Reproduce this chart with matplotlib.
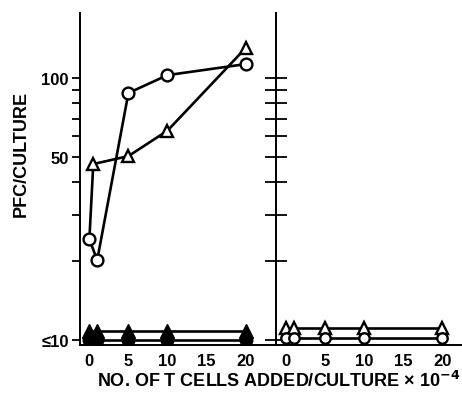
import matplotlib
matplotlib.use("Agg")
import matplotlib.pyplot as plt
from matplotlib.ticker import FixedLocator, NullFormatter, NullLocator

plt.rcParams['font.family'] = ['Liberation Sans', 'DejaVu Sans']
plt.rcParams['font.weight'] = 'bold'

# ---- data (PFC/culture vs number of T cells added, x10^-4) ----
# left panel
open_circle_x = [0, 1, 5, 10, 20]
open_circle_y = [24.3, 20.2, 87.7, 102.6, 113]
open_tri_x = [0, 0.5, 5, 10, 20]          # first point shared with circle at x=0
open_tri_y = [24.3, 47, 50.4, 63, 130]
filled_x = [0, 1, 5, 10, 20]
filled_tri_y = [10.9, 10.9, 10.9, 10.9, 10.9]
filled_circle_y = [10.05, 10.05, 10.05, 10.05, 10.05]
# right panel
right_x = [0, 1, 5, 10, 20]
right_tri_y = [11.1, 11.1, 11.1, 11.1, 11.1]
right_circle_y = [10.2, 10.2, 10.2, 10.2, 10.2]

ytick_major = [10, 50, 100]
ytick_labels = ['≤10', '50', '100']
ytick_minor = [20, 30, 40, 60, 70, 80, 90]
ytick_all = [10, 20, 30, 40, 50, 60, 70, 80, 90, 100]
xticks = [0, 5, 10, 15, 20]

W, H = 462, 402
fig = plt.figure(figsize=(W / 100, H / 100), dpi=100)

def frac(x0, y0, x1, y1):
    return [x0 / W, 1 - y1 / H, (x1 - x0) / W, (y1 - y0) / H]

axL = fig.add_axes(frac(80, 14, 276, 346))
axR = fig.add_axes(frac(276, 14, 461, 346))

ylim = (9.6, 177)
lw = 1.9
ms = 8.5
mew = 1.7

# Left panel
axL.plot(open_circle_x, open_circle_y, '-', color='black', lw=lw, zorder=2)
axL.plot(open_circle_x, open_circle_y, 'o', ms=ms, mfc='white', mec='black', mew=mew, zorder=4)
axL.plot(open_tri_x, open_tri_y, '-', color='black', lw=lw, zorder=2)
axL.plot(open_tri_x[1:], open_tri_y[1:], '^', ms=ms + 0.5, mfc='white', mec='black', mew=mew, zorder=4)
axL.plot(filled_x, filled_tri_y, '-^', color='black', lw=lw, ms=ms + 1.5, zorder=3)
axL.plot(filled_x, filled_circle_y, '-o', color='black', lw=lw, ms=ms + 0.5, zorder=3)

axL.set_yscale('log')
axL.set_ylim(*ylim)
axL.set_xlim(-1.2, 23.9)
axL.yaxis.set_major_locator(FixedLocator(ytick_major))
axL.set_yticklabels(ytick_labels)
axL.yaxis.set_minor_locator(FixedLocator(ytick_minor))
axL.yaxis.set_minor_formatter(NullFormatter())
axL.set_xticks(xticks)
axL.tick_params(axis='y', which='both', direction='out', length=6, width=1.3, labelsize=12, pad=2)
axL.tick_params(axis='x', which='both', length=0, labelsize=12, pad=6)
axL.xaxis.set_minor_locator(NullLocator())
for s in ['top', 'right']:
    axL.spines[s].set_visible(False)
for s in ['left', 'bottom']:
    axL.spines[s].set_linewidth(1.4)
axL.set_ylabel('PFC/CULTURE', fontsize=13, fontweight='bold')
axL.yaxis.set_label_coords(-0.255, 0.58)

# Right panel
axR.plot(right_x, right_tri_y, '-', color='black', lw=lw, zorder=2)
axR.plot(right_x, right_tri_y, '^', ms=ms - 0.5, mfc='white', mec='black', mew=mew, zorder=4)
axR.plot(right_x, right_circle_y, '-', color='black', lw=lw, zorder=2)
axR.plot(right_x, right_circle_y, 'o', ms=ms - 1, mfc='white', mec='black', mew=mew, zorder=4)

axR.set_yscale('log')
axR.set_ylim(*ylim)
axR.set_xlim(-1.3, 22.4)
axR.yaxis.set_major_locator(FixedLocator(ytick_all))
axR.yaxis.set_major_formatter(NullFormatter())
axR.yaxis.set_minor_locator(NullLocator())
axR.set_xticks(xticks)
axR.tick_params(axis='y', which='both', direction='inout', length=16, width=1.3)
axR.tick_params(axis='x', which='both', length=0, labelsize=12, pad=6)
axR.xaxis.set_minor_locator(NullLocator())
for s in ['top', 'right']:
    axR.spines[s].set_visible(False)
for s in ['left', 'bottom']:
    axR.spines[s].set_linewidth(1.4)

for ax in (axL, axR):
    for lab in ax.get_xticklabels() + ax.get_yticklabels():
        lab.set_fontweight('bold')

fig.text(97 / W, 1 - 381 / H, 'NO. OF T CELLS ADDED/CULTURE × 10$^{\\mathbf{-4}}$',
         ha='left', va='center', fontsize=13, fontweight='bold')

fig.savefig('out.png', dpi=100)
